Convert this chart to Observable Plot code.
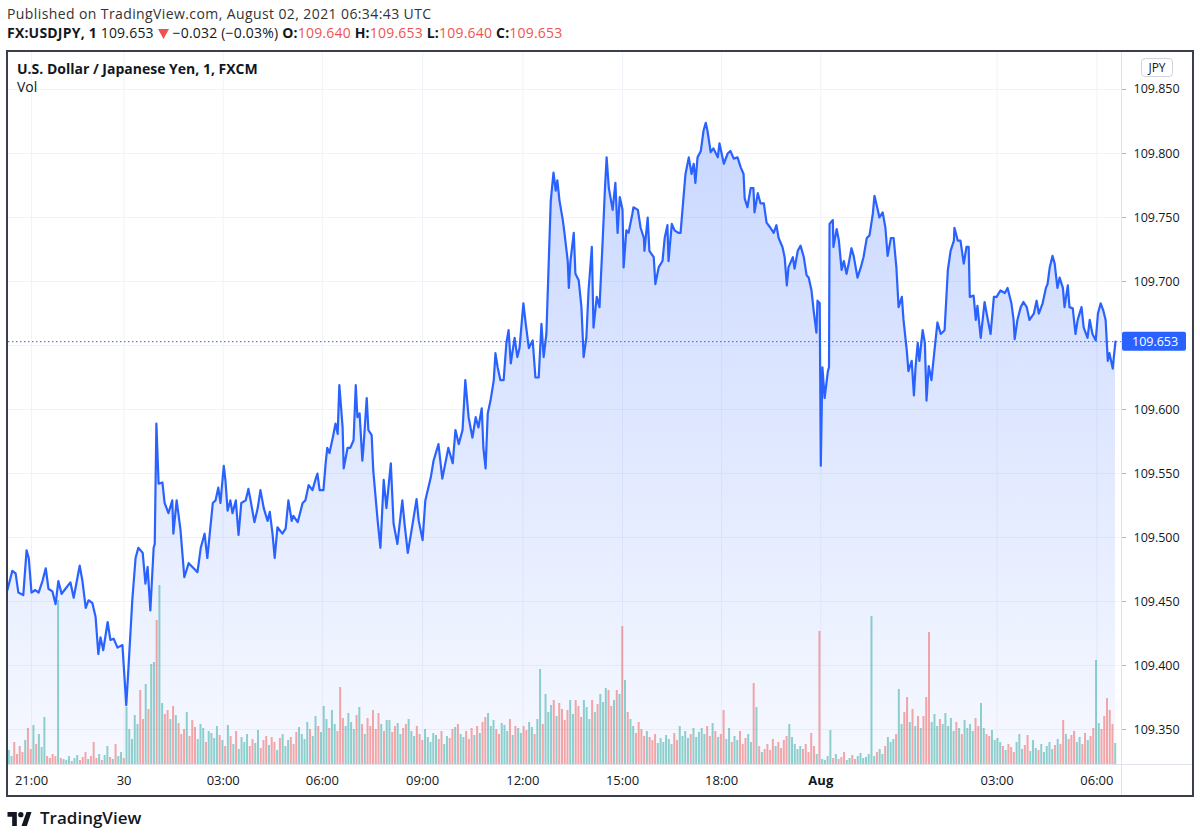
<!DOCTYPE html>
<html><head><meta charset="utf-8">
<script src="https://cdn.jsdelivr.net/npm/d3@7"></script>
<script src="https://cdn.jsdelivr.net/npm/@observablehq/plot@0.6"></script>
<style>
html,body{margin:0;padding:0;background:#fff}
body{width:1200px;height:837px;position:relative;overflow:hidden;font-family:"Open Sans","Noto Sans",sans-serif;color:#131722}
.abs{position:absolute;white-space:nowrap}
#pub{left:7px;top:4px;font-size:14px;letter-spacing:0.4px;color:#333}
#sym{left:7px;top:23px;font-size:14px;letter-spacing:0.2px;color:#131722}
#sym b{font-weight:700}
#sym .r{color:#ef5350}
#frame{position:absolute;left:6px;top:50px;width:1184px;height:743px;border:2px solid #3b3f4a;overflow:hidden}
#title{left:17px;top:59px;font-size:14px;font-weight:700}
#vol{left:17px;top:77px;font-size:14px}
#jpy{left:1141px;top:58px;width:30px;height:17px;border:1px solid #d1d4dc;border-radius:4px;font-size:12px;text-align:center;line-height:17px;color:#131722}
#foot{left:7px;top:806px;font-size:17px;font-weight:600;display:flex;align-items:center;gap:8px;color:#131722}
</style></head>
<body>
<div id="pub" class="abs">Published on TradingView.com, August 02, 2021 06:34:43 UTC</div>
<div id="sym" class="abs"><b>FX:USDJPY, 1</b> 109.653 <svg width="11" height="10" viewBox="0 0 11 10" style="vertical-align:-1px"><path d="M0 0h11L5.5 10z" fill="#ef5350"/></svg> −0.032 (−0.03%) <b>O:</b><span class="r">109.640</span> <b>H:</b><span class="r">109.653</span> <b>L:</b><span class="r">109.640</span> <b>C:</b><span class="r">109.653</span></div>
<div id="frame"><div id="chart"></div></div>
<div id="title" class="abs">U.S. Dollar / Japanese Yen, 1, FXCM</div>
<div id="vol" class="abs">Vol</div>
<div id="jpy" class="abs">JPY</div>
<div id="foot" class="abs"><svg width="25" height="16" viewBox="0 0 36 24"><path d="M14 24H7V10H0V3h14z" fill="#131722"/><circle cx="20" cy="7" r="4" fill="#131722"/><path d="M29 24h-8l7.5-21h7.5z" fill="#131722"/></svg><span>TradingView</span></div>
<script>
// ---- data (bar index = 1-minute bar slot; 0 = 21:00 on Jul 29) ----
const barIndex = [-44,-35,-29,-24,-15,-9,-5,0,7,13,20,26,31,38,44,49,55,62,71,77,84,88,93,99,104,111,117,122,126,131,139,144,150,157,166,173,177,184,190,195,203,208,212,217,223,225,228,232,239,243,250,257,259,265,272,279,287,296,303,309,
316,321,331,336,341,345,351,354,358,363,367,373,378,383,391,396,400,407,413,418,424,431,435,440,444,449,458,464,469,475,478,486,495,500,506,513,519,522,526,533,537,540,544,550,555,559,562,568,570,577,582,588,592,595,599,604,606,612,615,621,624,632,637,643,648,656,661,668,677,681,687,694,703,707,714,719,729,
734,743,750,761,769,774,780,787,792,798,805,811,816,822,825,829,833,838,844,847,851,856,862,867,871,875,882,887,891,898,902,908,915,920,926,931,935,940,944,948,953,957,960,964,970,973,979,981,984,990,993,999,1004,1008,1013,1017,1023,1026,1032,1037,1043,
1047,1050,1054,1061,1066,1070,1074,1079,1081,1086,1090,1097,1099,1107,1112,1118,1119,1125,1128,1136,1139,1145,1152,1156,1161,1163,1169,1174,1181,1185,1191,1194,1200,1205,1209,1212,1216,1222,1227,1231,1234,1240,1245,1253,1256,1264,1271,1276,1282,1289,1295,1300,1302,1307,1313,1318,1320,1326,1331,1337,1342,1349,1355,1360,1364,1371,1375,1379,1382,1390,1393,1399,1404,1410,1415,1419,1424,1428,1433,1435,1439,1441,1444,1448,1454,1456,
1457,1463,1464,1470,1474,1479,1483,1488,1492,1497,1501,1508,1514,1519,1525,1530,1536,1539,1545,1548,1554,1559,1563,1569,1574,1579,1583,1589,1592,1598,1601,1607,1611,1614,1618,1621,1627,1631,1634,1638,1643,1649,1654,1660,1667,1673,1678,1684,1685,1691,1696,1702,1707,1711,1713,1720,1724,1727,1733,1740,1746,1751,1757,1762,1769,1777,1782,1789,1793,1795,1800,1806,1811,1817,1822,1830,1835,1839,1846,1852,1855,1859,1864,1868,1873,1877,1883,1886,1892,1895,1901,1906,1910,1917,1921,1928,1932,1937,1943,1947,1952,1957,1961,1965,1968,1974,1976,1979];
const closePrice = [109.459,109.474,109.472,109.457,109.455,109.490,109.484,109.457,109.459,109.457,109.466,109.476,109.460,109.458,109.448,109.466,109.456,109.460,109.465,109.453,109.469,109.478,109.466,109.445,109.451,109.449,109.438,109.409,109.422,109.412,109.434,109.420,109.421,109.414,109.416,109.369,109.398,109.451,109.484,109.492,109.488,109.464,109.477,109.443,109.492,109.495,109.589,109.542,109.543,109.527,109.519,109.529,109.503,109.529,109.506,109.469,109.480,109.476,109.473,109.492,
109.503,109.484,109.527,109.529,109.539,109.527,109.556,109.545,109.521,109.529,109.519,109.529,109.502,109.527,109.529,109.538,109.529,109.512,109.523,109.537,109.523,109.513,109.520,109.503,109.484,109.508,109.503,109.507,109.529,109.513,109.517,109.512,109.527,109.529,109.541,109.537,109.546,109.550,109.537,109.537,109.558,109.570,109.566,109.578,109.589,109.581,109.619,109.586,109.554,109.570,109.570,109.576,109.619,109.594,109.597,109.560,109.570,109.609,109.584,109.580,109.552,109.513,109.492,109.545,109.523,109.558,109.511,109.495,109.529,109.511,109.488,109.506,109.530,109.513,109.498,109.529,109.547,
109.560,109.573,109.546,109.570,109.558,109.584,109.573,109.584,109.623,109.594,109.578,109.594,109.586,109.601,109.570,109.554,109.597,109.607,109.623,109.644,109.633,109.623,109.623,109.652,109.662,109.636,109.656,109.641,109.648,109.683,109.668,109.648,109.654,109.625,109.625,109.667,109.641,109.659,109.711,109.763,109.785,109.771,109.779,109.763,109.748,109.738,109.716,109.695,109.716,109.738,109.706,109.701,109.680,109.641,109.656,109.693,109.727,109.664,109.688,109.680,109.734,
109.773,109.797,109.773,109.756,109.777,109.738,109.766,109.756,109.711,109.740,109.738,109.753,109.758,109.756,109.742,109.734,109.724,109.750,109.724,109.719,109.698,109.711,109.716,109.734,109.744,109.716,109.745,109.740,109.738,109.738,109.769,109.784,109.797,109.784,109.792,109.777,109.797,109.802,109.818,109.824,109.818,109.801,109.804,109.797,109.808,109.792,109.800,109.802,109.796,109.797,109.789,109.784,109.765,109.758,109.773,109.773,109.754,109.769,109.761,109.761,109.746,109.742,109.738,109.744,109.734,109.727,109.719,109.697,109.711,109.719,109.710,109.724,109.728,109.719,109.705,109.703,109.693,109.677,109.660,109.685,109.683,109.556,109.633,109.609,109.630,109.633,
109.745,109.748,109.727,109.741,109.732,109.709,109.716,109.706,109.714,109.726,109.720,109.703,109.711,109.719,109.734,109.736,109.753,109.767,109.756,109.750,109.754,109.742,109.720,109.734,109.734,109.711,109.680,109.688,109.670,109.646,109.630,109.638,109.611,109.633,109.652,109.638,109.662,109.652,109.607,109.634,109.623,109.648,109.668,109.659,109.662,109.709,109.724,109.732,109.742,109.732,109.732,109.714,109.727,109.727,109.688,109.689,109.670,109.681,109.656,109.684,109.670,109.659,109.688,109.688,109.693,109.691,109.695,109.683,109.670,109.655,109.670,109.680,109.684,109.680,109.670,109.675,109.685,109.675,109.683,109.695,109.698,109.711,109.720,109.714,109.695,109.703,109.695,109.680,109.697,109.680,109.679,109.659,109.670,109.680,109.664,109.656,109.670,109.659,109.654,109.675,109.683,109.677,109.670,109.638,109.644,109.632,109.641,109.653];
const lastPrice = 109.653;

// volume per 5-bar bucket, starting at bar index -44
const volStartBar = -44;
const volBucketBars = 5;
const volume = [14,8,22,10,18,12,24,36,15,39,
20,30,17,47,8,6,10,8,164,6,
5,4,8,3,6,9,4,7,12,5,
8,22,6,10,4,9,18,7,5,20,
8,12,6,57,
35,25,49,40,74,45,80,55,100,102,144,179,
61,50,54,45,58,49,
41,30,35,52,28,44,37,25,40,36,22,33,31,26,38,29,
24,18,39,28,20,33,15,27,22,30,18,25,21,34,16,24,28,19,27,22,14,26,30,18,24,27,20,32,37,
30,25,42,35,28,48,38,32,58,45,36,54,40,33,77,46,38,51,42,35,49,57,40,30,46,38,54,35,51,40,33,44,44,32,38,41,30,
36,40,45,33,28,38,30,24,35,27,22,31,29,25,33,20,28,26,35,37,40,30,27,33,25,36,29,38,31,
42,47,51,38,44,35,30,41,39,33,45,29,38,36,31,38,34,42,37,30,45,95,40,
70,52,59,64,48,61,55,44,54,64,50,64,58,47,64,57,45,64,52,60,70,
62,76,74,58,64,74,70,138,84,
52,45,38,31,42,35,28,33,27,24,30,21,26,22,29,25,20,31,24,38,28,33,26,30,36,27,32,
36,30,38,28,41,33,27,30,54,25,36,22,28,24,33,20,26,30,22,81,57,18,12,15,20,14,25,18,22,16,24,28,40,27,20,15,18,
15,20,12,31,18,10,
133,
5,4,8,34,6,10,5,7,12,4,6,9,5,8,11,6,7,10,
148,
8,12,15,10,18,27,22,25,30,
75,40,52,67,42,55,38,48,36,48,67,132,42,50,38,45,
40,51,38,46,33,42,36,30,44,36,40,33,46,38,61,36,30,28,34,24,26,22,
18,14,20,17,12,22,30,15,19,29,13,24,16,14,20,12,18,22,15,19,25,20,
44,30,25,29,33,22,27,20,31,24,28,36,
104,41,35,48,66,54,40,21];

const priceTicks = [109.35,109.40,109.45,109.50,109.55,109.60,109.65,109.70,109.75,109.80,109.85];
const timeTickBars = [0,169,350,531,714,897,1079,1260,1441,1763,1945];
const timeTickLabels = ["21:00","30","03:00","06:00","09:00","12:00","15:00","18:00","Aug","03:00","06:00"];

// ---- build ----
const FONT = '"Open Sans","Noto Sans",sans-serif';
const yDomain = [109.3227, 109.8789];
const xDomain = [-42, 1990];
const series = barIndex.map((t, i) => ({t, p: closePrice[i]}));
const bis = d3.bisector(d => d.t).right;
const volToPrice = d3.scaleLinear().domain([0, 712]).range(yDomain); // secondary (volume) axis
const volData = volume.map((v, i) => {
  const t = volStartBar + volBucketBars * i + volBucketBars / 2;
  let k = Math.min(Math.max(bis(series, t), 1), series.length - 1);
  const up = series[k].p >= series[k - 1].p;
  return {t, v, top: volToPrice(v), color: up ? "rgba(38,166,154,0.5)" : "rgba(239,83,80,0.5)"};
});
const labelOf = new Map(timeTickBars.map((b, i) => [b, timeTickLabels[i]]));
const boldTicks = timeTickBars.filter(b => labelOf.get(b) === "Aug");
const normalTicks = timeTickBars.filter(b => labelOf.get(b) !== "Aug");
const labelledPriceTicks = priceTicks.filter(p => Math.abs(p - lastPrice) > 0.01);

const W = 1184, H = 743, MR = 71, MB = 31;
const chart = Plot.plot({
  width: W, height: H,
  marginLeft: 0, marginRight: MR, marginTop: 0, marginBottom: MB,
  x: {domain: xDomain, axis: null},
  y: {domain: yDomain, axis: null},
  style: {fontFamily: FONT, fontSize: "13px", color: "#131722", background: "transparent", overflow: "visible"},
  marks: [
    Plot.ruleY(priceTicks, {stroke: "#f0f3fa", strokeWidth: 1}),
    Plot.ruleX(timeTickBars, {stroke: "#f0f3fa", strokeWidth: 1}),
    Plot.areaY(series, {x: "t", y1: yDomain[0], y2: "p", fill: "url(#areaGrad)"}),
    Plot.ruleX(volData, {x: "t", y1: yDomain[0], y2: "top", stroke: "color", strokeWidth: 2}),
    Plot.ruleY([lastPrice], {stroke: "#2962ff", strokeDasharray: "1.5,2.5", strokeWidth: 1}),
    Plot.line(series, {x: "t", y: "p", stroke: "#2962ff", strokeWidth: 2.2, strokeLinejoin: "round"}),
    Plot.axisY(labelledPriceTicks, {anchor: "right", label: null, tickSize: 4, tickPadding: 8, tickFormat: d3.format(".3f"), stroke: "#b2b5be", fill: "#131722", fontSize: 12.5}),
    Plot.axisX(normalTicks, {anchor: "bottom", label: null, tickSize: 0, tickPadding: 11, tickFormat: d => labelOf.get(d), fill: "#131722", fontSize: 13}),
    Plot.axisX(boldTicks, {anchor: "bottom", label: null, tickSize: 0, tickPadding: 11, tickFormat: d => labelOf.get(d), fill: "#131722", fontSize: 13, fontWeight: "bold"})
  ]
});

const ys = chart.scale("y");
const svg = d3.select(chart);
const plotR = W - MR, plotB = H - MB;
const grad = svg.insert("defs", ":first-child").append("linearGradient")
  .attr("id", "areaGrad").attr("gradientUnits", "userSpaceOnUse")
  .attr("x1", 0).attr("x2", 0).attr("y1", ys.apply(d3.max(closePrice))).attr("y2", plotB);
grad.append("stop").attr("offset", 0).attr("stop-color", "#2962ff").attr("stop-opacity", 0.25);
grad.append("stop").attr("offset", 1).attr("stop-color", "#2962ff").attr("stop-opacity", 0.04);
// pane separators
svg.append("line").attr("x1", 0).attr("x2", W).attr("y1", plotB + 0.5).attr("y2", plotB + 0.5).attr("stroke", "#e0e3eb");
svg.append("line").attr("x1", plotR + 0.5).attr("x2", plotR + 0.5).attr("y1", 0).attr("y2", H).attr("stroke", "#e0e3eb");
// last price label on the price scale
const ly = ys.apply(lastPrice);
svg.append("rect").attr("x", plotR + 1).attr("y", ly - 9.5).attr("width", 64).attr("height", 19).attr("rx", 2).attr("fill", "#2962ff");
svg.append("text").attr("x", plotR + 11).attr("y", ly).attr("dy", "0.35em").attr("fill", "#fff")
  .attr("text-anchor", "start").attr("font-size", 12.5).attr("font-family", FONT).text(d3.format(".3f")(lastPrice));
document.getElementById("chart").appendChild(chart);
</script>
</body></html>
